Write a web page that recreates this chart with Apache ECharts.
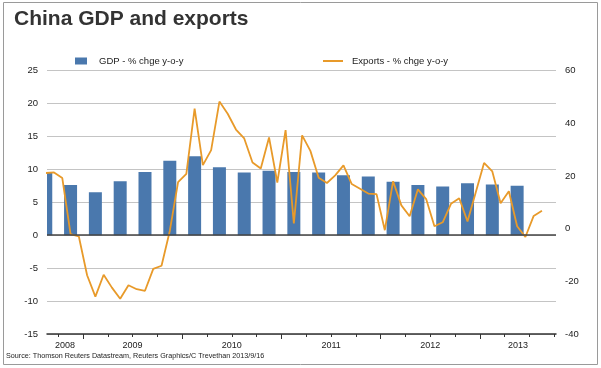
<!DOCTYPE html>
<html>
<head>
<meta charset="utf-8">
<script src="https://cdn.jsdelivr.net/npm/echarts@6/dist/echarts.min.js"></script>
<style>
html,body{margin:0;padding:0;background:#fff;}
#c{width:601px;height:368px;}
</style>
</head>
<body>
<div id="c"></div>
<script>
// ---- data ----
const gdpQuarters = ['2008Q3','2008Q4','2009Q1','2009Q2','2009Q3','2009Q4','2010Q1','2010Q2','2010Q3','2010Q4',
  '2011Q1','2011Q2','2011Q3','2011Q4','2012Q1','2012Q2','2012Q3','2012Q4','2013Q1','2013Q2'];
const gdpValues = [9.6, 7.6, 6.5, 8.2, 9.6, 11.3, 12.0, 10.3, 9.5, 9.8,
  9.6, 9.5, 9.1, 8.9, 8.1, 7.6, 7.4, 7.9, 7.7, 7.5];

const exportMonths = ['2008-08','2008-09','2008-10','2008-11','2008-12',
  '2009-01','2009-02','2009-03','2009-04','2009-05','2009-06','2009-07','2009-08','2009-09','2009-10','2009-11','2009-12',
  '2010-01','2010-02','2010-03','2010-04','2010-05','2010-06','2010-07','2010-08','2010-09','2010-10','2010-11','2010-12',
  '2011-01','2011-02','2011-03','2011-04','2011-05','2011-06','2011-07','2011-08','2011-09','2011-10','2011-11','2011-12',
  '2012-01','2012-02','2012-03','2012-04','2012-05','2012-06','2012-07','2012-08','2012-09','2012-10','2012-11','2012-12',
  '2013-01','2013-02','2013-03','2013-04','2013-05','2013-06','2013-07','2013-08'];
const exportValues = [21.1, 21.3, 19.2, -2.1, -3.0,
  -17.7, -25.8, -17.5, -22.4, -26.6, -21.5, -23.0, -23.6, -15.3, -14.1, -0.9, 17.6,
  20.8, 45.5, 24.1, 29.8, 48.2, 43.6, 37.6, 34.2, 25.1, 22.8, 34.6, 17.5,
  37.4, 2.0, 35.4, 29.5, 19.3, 17.3, 20.2, 24.0, 16.9, 15.1, 13.3, 13.1,
  -0.6, 18.0, 8.8, 4.7, 14.9, 11.2, 0.9, 2.4, 9.4, 11.5, 2.7, 13.8,
  24.9, 21.7, 9.6, 14.2, 0.9, -3.2, 4.8, 6.8];

const yearLabels = ['2008','2009','2010','2011','2012','2013'];
const leftTicks = [-15, -10, -5, 0, 5, 10, 15, 20, 25];
const rightTicks = [-40, -20, 0, 20, 40, 60];

const titleText = 'China GDP and exports';
const gdpName = 'GDP - % chge y-o-y';
const exportsName = 'Exports - % chge y-o-y';
const sourceText = 'Source: Thomson Reuters Datastream, Reuters Graphics/C Trevethan 2013/9/16';

// ---- conversions to a month scale (months since Jan 2008) ----
const BASE = 2008;
function quarterPos(q){ const y=+q.slice(0,4), n=+q.slice(5); return (y-BASE)*12 + (n-1)*3 + 1.5; }
function monthPos(m){ const y=+m.slice(0,4), n=+m.slice(5); return (y-BASE)*12 + (n-1) + 0.5; }

const XMIN = 7.65, XMAX = 69.2;
const gdpData = gdpQuarters.map((q,i)=>[quarterPos(q), gdpValues[i]]);
const expData = exportMonths.map((m,i)=>[monthPos(m), exportValues[i]]);

const quarterTicks = [];
for (let v = 3; v < XMAX; v += 3) if (v > XMIN) quarterTicks.push(v);
const yearTicks = yearLabels.slice(1).map(y => (+y - BASE) * 12);
const yearLabelPos = yearLabels.map(y => {
  const s = Math.max((+y - BASE) * 12, XMIN), e = Math.min((+y - BASE + 1) * 12, XMAX);
  return (s + e) / 2;
});

const BAR_COLOR = '#4a78ad';
const LINE_COLOR = '#e89a2a';
const BAR_W = 13;

function renderBar(params, api) {
  const x = api.value(0), y = api.value(1);
  const p0 = api.coord([x, 0]);
  const p1 = api.coord([x, y]);
  const rect = echarts.graphic.clipRectByRect(
    {x: p0[0] - BAR_W / 2, y: Math.min(p0[1], p1[1]), width: BAR_W, height: Math.abs(p0[1] - p1[1])},
    {x: params.coordSys.x, y: params.coordSys.y, width: params.coordSys.width, height: params.coordSys.height}
  );
  if (!rect) return null;
  return {type: 'rect', shape: rect, style: {fill: BAR_COLOR}};
}

const FONT = '"Liberation Sans", Arial, sans-serif';
const chart = echarts.init(document.getElementById('c'), null, {renderer:'canvas'});
chart.setOption({
  animation: false,
  backgroundColor: '#fff',
  title: {
    text: titleText, left: 9, top: 4,
    textStyle: {fontFamily: FONT, fontSize: 21, fontWeight: 'bold', color: '#333'}
  },
  legend: [
    {data: [gdpName], left: 70, top: 51, icon: 'rect', itemWidth: 12, itemHeight: 7,
      textStyle: {fontFamily: FONT, fontSize: 9.5, color: '#222', padding: [0,0,0,7]}},
    {data: [exportsName], left: 318, top: 51, icon: 'rect', itemWidth: 20, itemHeight: 2,
      textStyle: {fontFamily: FONT, fontSize: 9.5, color: '#222', padding: [0,0,0,4]}}
  ],
  grid: {left: 47, right: 45, top: 70.5, bottom: 34, containLabel: false},
  xAxis: [
    {type: 'value', min: XMIN, max: XMAX, position: 'bottom',
      axisLine: {show: true, onZero: false, lineStyle: {color: '#333', width: 1.5}},
      axisTick: {show: true, customValues: quarterTicks, length: 3, lineStyle: {color: '#333'}},
      axisLabel: {show: true, customValues: yearLabelPos, margin: 7,
        formatter: v => yearLabels[Math.floor(v / 12)] || '',
        fontFamily: FONT, fontSize: 9, color: '#222'},
      splitLine: {show: false}},
    {type: 'value', min: XMIN, max: XMAX, position: 'bottom',
      axisLine: {show: false, onZero: false},
      axisTick: {show: true, customValues: yearTicks, length: 5, lineStyle: {color: '#333'}},
      axisLabel: {show: false}, splitLine: {show: false}}
  ],
  yAxis: [
    {type: 'value', min: leftTicks[0], max: leftTicks[leftTicks.length-1], interval: leftTicks[1]-leftTicks[0],
      position: 'left',
      axisLine: {show: false}, axisTick: {show: false},
      axisLabel: {margin: 9, fontFamily: FONT, fontSize: 9.5, color: '#222'},
      splitLine: {show: true, lineStyle: {color: '#c4c4c4', width: 1}}},
    {type: 'value', min: rightTicks[0], max: rightTicks[rightTicks.length-1], interval: rightTicks[1]-rightTicks[0],
      position: 'right',
      axisLine: {show: false}, axisTick: {show: false},
      axisLabel: {margin: 9, fontFamily: FONT, fontSize: 9.5, color: '#222'},
      splitLine: {show: false}}
  ],
  series: [
    {name: gdpName, type: 'custom', xAxisIndex: 0, yAxisIndex: 0, data: gdpData,
      renderItem: renderBar, itemStyle: {color: BAR_COLOR}, encode: {x: 0, y: 1}, clip: true,
      markLine: {silent: true, symbol: 'none', label: {show: false},
        lineStyle: {color: '#444', width: 1.5, type: 'solid'}, data: [{yAxis: 0}]}},
    {name: exportsName, type: 'line', xAxisIndex: 0, yAxisIndex: 1, data: expData,
      showSymbol: false, clip: true, itemStyle: {color: LINE_COLOR},
      lineStyle: {color: LINE_COLOR, width: 1.8}}
  ],
  graphic: [
    {type: 'rect', shape: {x: 3.5, y: 2.5, width: 594, height: 362},
      style: {fill: 'none', stroke: '#9a9a9a', lineWidth: 1}, silent: true, z: -1},
    {type: 'text', left: 6, top: 353,
      style: {text: sourceText, font: '7.2px ' + FONT, fill: '#222'}}
  ]
});
</script>
</body>
</html>
